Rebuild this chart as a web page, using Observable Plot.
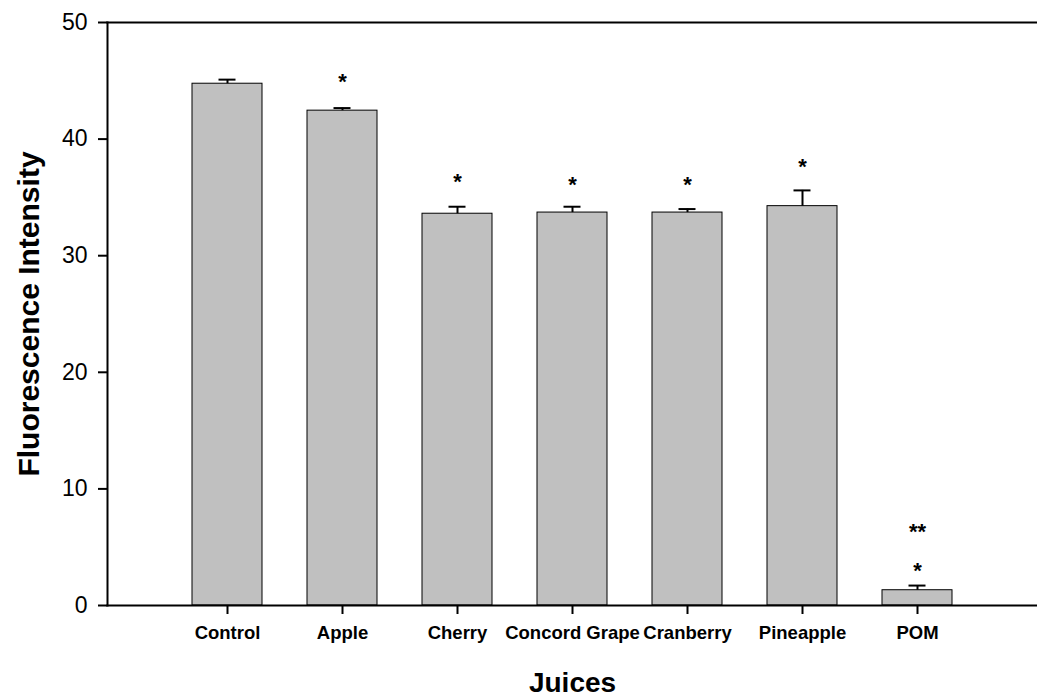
<!DOCTYPE html>
<html>
<head>
<meta charset="utf-8">
<script src="https://cdn.jsdelivr.net/npm/d3@7"></script>
<script src="https://cdn.jsdelivr.net/npm/@observablehq/plot@0.6"></script>
<style>
  html, body { margin: 0; padding: 0; background: #fff; }
  #chart { width: 1037px; height: 698px; }
</style>
</head>
<body>
<div id="chart"></div>
<script>
const juices = ["Control", "Apple", "Cherry", "Concord Grape", "Cranberry", "Pineapple", "POM"];
const means  = [44.75, 42.44, 33.6, 33.7, 33.7, 34.25, 1.31];
const errors = [0.35, 0.22, 0.6, 0.5, 0.3, 1.35, 0.4];
const yTicks = [0, 10, 20, 30, 40, 50];
const starJuices = ["Apple", "Cherry", "Concord Grape", "Cranberry", "Pineapple", "POM", "POM"];
const starValues = [44.9, 36.3, 36.05, 36.05, 37.6, 3.0, 6.3];
const starText   = ["*", "*", "*", "*", "*", "*", "**"];

const data = juices.map((j, i) => ({juice: j, mean: means[i], err: errors[i]}));
const stars = starJuices.map((j, i) => ({juice: j, y: starValues[i], label: starText[i]}));

const chart = Plot.plot({
  width: 1037,
  height: 698,
  marginLeft: 107,
  marginRight: 0,
  marginTop: 22,
  marginBottom: 93,
  style: {fontFamily: "'Liberation Sans', Arial, sans-serif", background: "#fff", color: "#000"},
  x: {domain: juices, paddingInner: 0.39, paddingOuter: 0.725, label: null},
  y: {domain: [0, 50], label: null},
  marks: [
    Plot.barY(data, {x: "juice", y: "mean", fill: "#c0c0c0", stroke: "#000", strokeWidth: 1, inset: 0}),
    Plot.ruleX(data, {x: "juice", y1: "mean", y2: d => d.mean + d.err, stroke: "#000", strokeWidth: 2}),
    Plot.tickY(data, {x: "juice", y: d => d.mean + d.err, stroke: "#000", strokeWidth: 2, insetLeft: 26.5, insetRight: 26.5}),
    Plot.text(stars, {x: "juice", y: "y", text: "label", fontSize: 22, fontWeight: "bold", fill: "#000"}),
    Plot.frame({anchor: "left", stroke: "#000", strokeWidth: 2}),
    Plot.frame({anchor: "top", stroke: "#000", strokeWidth: 2}),
    Plot.frame({anchor: "bottom", stroke: "#000", strokeWidth: 2}),
    Plot.axisY({ticks: yTicks, tickSize: 9, tickPadding: 11, fontSize: 23, strokeWidth: 2, label: null}),
    Plot.axisX({tickSize: 9, tickPadding: 11, fontSize: 18.5, fontWeight: "bold", strokeWidth: 2, label: null}),
    Plot.text(["Fluorescence Intensity"], {frameAnchor: "left", textAnchor: "middle", lineAnchor: "middle", dx: -78, rotate: -90, fontSize: 30, fontWeight: "bold", fill: "#000"}),
    Plot.text(["Juices"], {frameAnchor: "bottom", textAnchor: "middle", lineAnchor: "middle", dy: 78, fontSize: 28, fontWeight: "bold", fill: "#000"})
  ]
});
document.getElementById("chart").appendChild(chart);
</script>
</body>
</html>
